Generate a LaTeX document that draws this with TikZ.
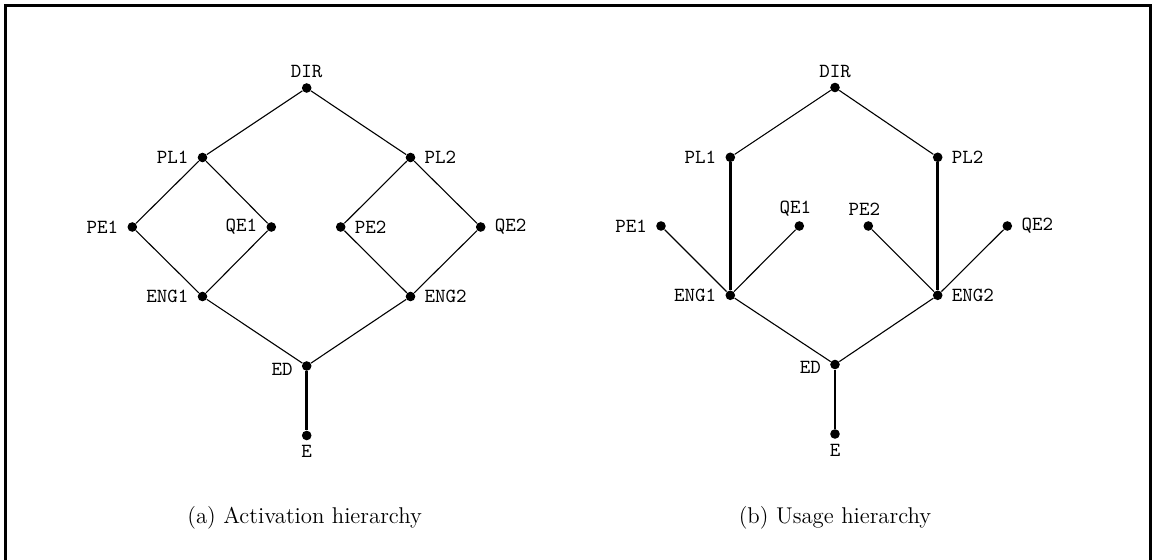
\documentclass[tikz,border=0pt]{standalone}
\begin{document}
\begin{tikzpicture}[x=0.5pt,y=-0.5pt]
\tikzset{
  vdot/.style={circle,fill=black,inner sep=0pt,minimum size=4.8pt},
  lbl/.style={font=\ttfamily,inner sep=2.3pt},
  lL/.style={label={[lbl,label distance=2pt]left:#1}},
  lR/.style={label={[lbl,label distance=2pt]right:#1}},
  lA/.style={label={[lbl]above:#1}},
  lB/.style={label={[lbl]below:#1}},
  lED/.style={label={[lbl,label distance=2pt,yshift=-1.5pt]left:#1}},
  lAL/.style={label={[lbl,xshift=-2pt]above:#1}},
  thinedge/.style={line width=0.55pt},
  thickedge/.style={line width=1.4pt},
  frameline/.style={line width=1.3pt},
  capt/.style={font=\fontsize{11.4}{14}\selectfont,inner sep=0pt}
}
\useasboundingbox (0,0) rectangle (1153,560);

% open frame around the figure
\draw[frameline] (5.5,566) -- (5.5,5.5) -- (1150.5,5.5) -- (1150.5,566);

% ---------- (a) activation hierarchy ----------
\node[vdot,lA=DIR]  (a-dir)  at (306.7,88)   {};
\node[vdot,lL=PL1]  (a-pl1)  at (202.5,157.5) {};
\node[vdot,lR=PL2]  (a-pl2)  at (410.5,157.5) {};
\node[vdot,lL=PE1]  (a-pe1)  at (132.3,227)  {};
\node[vdot,lL=QE1]  (a-qe1)  at (271.3,227)  {};
\node[vdot,lR=PE2]  (a-pe2)  at (340.7,227)  {};
\node[vdot,lR=QE2]  (a-qe2)  at (480.7,227)  {};
\node[vdot,lL=ENG1] (a-eng1) at (202.5,296.5) {};
\node[vdot,lR=ENG2] (a-eng2) at (410.5,296.5) {};
\node[vdot,lED=ED]  (a-ed)   at (306.7,366)  {};
\node[vdot,lB=E]    (a-e)    at (306.7,435.5) {};

\draw[thinedge] (a-dir) -- (a-pl1);
\draw[thinedge] (a-dir) -- (a-pl2);
\draw[thinedge] (a-pl1) -- (a-pe1);
\draw[thinedge] (a-pl1) -- (a-qe1);
\draw[thinedge] (a-pl2) -- (a-pe2);
\draw[thinedge] (a-pl2) -- (a-qe2);
\draw[thinedge] (a-pe1) -- (a-eng1);
\draw[thinedge] (a-qe1) -- (a-eng1);
\draw[thinedge] (a-pe2) -- (a-eng2);
\draw[thinedge] (a-qe2) -- (a-eng2);
\draw[thinedge] (a-eng1) -- (a-ed);
\draw[thinedge] (a-eng2) -- (a-ed);
\draw[thickedge] (a-ed) -- (a-e);

\node[capt] (a-cap) at (304.6,518) {(a) Activation hierarchy};

% ---------- (b) usage hierarchy ----------
\node[vdot,lA=DIR]  (b-dir)  at (835,87.5)   {};
\node[vdot,lL=PL1]  (b-pl1)  at (730.3,157.3) {};
\node[vdot,lR=PL2]  (b-pl2)  at (937.7,157.3) {};
\node[vdot,lL=PE1]  (b-pe1)  at (661,226)    {};
\node[vdot,lAL=QE1] (b-qe1)  at (799.3,226)  {};
\node[vdot,lAL=PE2] (b-pe2)  at (868.3,226)  {};
\node[vdot,lR=QE2]  (b-qe2)  at (1007.3,226) {};
\node[vdot,lL=ENG1] (b-eng1) at (730.3,295.3) {};
\node[vdot,lR=ENG2] (b-eng2) at (937.7,295.3) {};
\node[vdot,lED=ED]  (b-ed)   at (835,364.5)  {};
\node[vdot,lB=E]    (b-e)    at (835,434)    {};

\draw[thinedge] (b-dir) -- (b-pl1);
\draw[thinedge] (b-dir) -- (b-pl2);
\draw[thickedge] (b-pl1) -- (b-eng1);
\draw[thickedge] (b-pl2) -- (b-eng2);
\draw[thinedge] (b-pe1) -- (b-eng1);
\draw[thinedge] (b-qe1) -- (b-eng1);
\draw[thinedge] (b-pe2) -- (b-eng2);
\draw[thinedge] (b-qe2) -- (b-eng2);
\draw[thinedge] (b-eng1) -- (b-ed);
\draw[thinedge] (b-eng2) -- (b-ed);
\draw[thickedge] (b-ed) -- (b-e);

\node[capt] (b-cap) at (835,518) {(b) Usage hierarchy};
\end{tikzpicture}
\end{document}
